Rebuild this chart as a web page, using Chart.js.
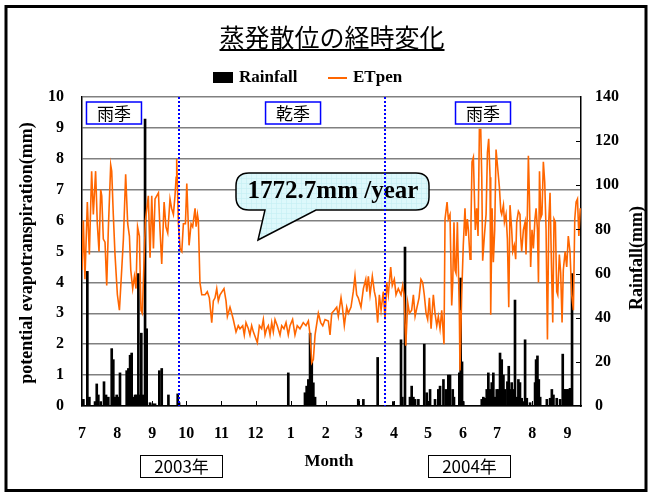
<!DOCTYPE html>
<html>
<head>
<meta charset="utf-8">
<script src="https://cdn.jsdelivr.net/npm/chart.js@4.4.1/dist/chart.umd.min.js"></script>
<style>
html, body { margin: 0; padding: 0; background: #fff; }
canvas { display: block; }
</style>
</head>
<body>
<canvas id="chart" width="652" height="493"></canvas>
<script>
// days counted from 1 July 2003
var monthStarts = [0, 31, 62, 92, 123, 153, 184, 215, 244, 275, 305, 336, 366, 397, 428];
var monthLabels = ['7', '8', '9', '10', '11', '12', '1', '2', '3', '4', '5', '6', '7', '8', '9'];

// ETpen (mm/day)
var etDays = [0, 1.2, 2.6, 4.7, 6.5, 8.5, 10, 12, 13.5, 15, 16.5, 17.4, 18.8, 20.3, 21.8, 23.2, 25.3, 26.2, 27.6, 29.1,
  31.2, 33, 35, 36.5, 38.5, 40.3, 41.8, 43, 44.7, 46.2, 47.6, 49, 50.6, 52, 53.2, 54.7, 55.9, 58.5, 60, 61.5,
  63, 64.4, 67.4, 68.8, 70.3, 72.4, 74, 75.6, 77.6, 79, 80.6, 82, 83, 83.5, 85, 86.5, 88, 89.4, 91.2, 92.4,
  94.4, 96.2, 97.6, 99.7, 100.6, 101.8, 102.6, 104, 105.6, 107.6, 108.5, 110.5, 112.3, 114.4, 115.8, 117.3, 118.8, 120.2, 121.7, 125.2,
  127, 128.2, 130.5, 132, 133.4, 135.8, 137.8, 139.3, 141.7, 143.1, 144.6, 146.7, 148.1, 149.6, 151.1, 154.6, 156.4, 158.4, 159.9, 161.4,
  162.8, 164.3, 165.8, 167.3, 168.7, 170.2, 172.2, 174.6, 176.1, 178.1, 179.9, 181.9, 183.4, 185.7, 187.8, 189.8, 192.2, 195.1, 197.5, 199.6,
  201.1, 202.6, 204, 205.5, 208.4, 210.5, 212.3, 214.3, 217.2, 218.7, 220.2, 222.5, 224.6, 226, 228.4, 229.6, 231.3, 233.4, 234.8, 237.2,
  239.2, 240.7, 242.2, 243.6, 246, 248.1, 250.2, 251.1, 252.5, 254, 256, 257.8, 259, 260.7, 262.2, 263.7, 265.7, 267.2, 268.7, 270.1,
  272.2, 273.6, 275.4, 276.9, 278.9, 281.3, 282.8, 284, 285.5, 287.2, 288.7, 290.7, 292.2, 293.7, 295.4, 297.2, 298.9, 300.4, 301.8, 303.4,
  304.8, 306.3, 307.8, 309.8, 311.3, 312.8, 314.2, 315.7, 317.2, 319.2, 320.1, 321.9, 323, 324.5, 326, 326.9, 328, 328.9, 329.8, 331,
  332.7, 333.3, 334.8, 336.2, 337.7, 338.6, 339.8, 340.7, 342.2, 343, 343.9, 345.1, 346, 346.8, 348, 349.2, 350.4, 351.6, 352.5, 353.3,
  354.8, 356.3, 357.5, 358.6, 359.8, 360.4, 361.6, 362.7, 363.9, 365.1, 366.3, 368, 369.3, 370.1, 371.6, 372.5, 373.9, 375.1, 376.3, 377.4,
  378.9, 379.8, 381.2, 382.4, 383.3, 384.8, 386.2, 386.8, 387.7, 389.2, 390.7, 391.5, 392.7, 393.6, 394.5, 395.6, 396.8, 398, 399.4, 400.4,
  401.6, 402.5, 403.4, 404.6, 405.6, 406.8, 408, 409.2, 410.4, 411.6, 412.7, 413.9, 415.1, 416.2, 417.4, 418.6, 419.5, 420.9, 422.1, 423.3,
  424.4, 426, 427.4, 428.8, 430.3, 431.8, 433.3, 434.5, 435.7, 436.9, 438.1, 439.3];
var etVals = [4.4, 6.0, 4.1, 6.6, 4.9, 7.6, 6.2, 7.6, 5.9, 5.0, 7.0, 6.8, 5.4, 5.3, 3.9, 5.7, 7.8, 7.6, 6.2, 4.9,
  3.6, 3.1, 4.4, 5.4, 7.5, 5.9, 5.5, 4.4, 3.8, 4.2, 3.8, 5.8, 5.5, 3.1, 3.0, 4.7, 6.0, 6.8, 4.8, 6.8,
  5.1, 6.7, 6.9, 5.7, 4.6, 6.6, 5.8, 5.6, 6.7, 6.4, 6.2, 6.8, 7.4, 8.0, 5.9, 5.1, 5.0, 5.9, 5.9, 7.2,
  5.2, 5.9, 5.8, 6.4, 5.8, 6.2, 6.0, 4.0, 3.6, 3.6, 3.6, 3.7, 3.5, 2.7, 3.4, 3.5, 3.8, 3.4, 3.6, 3.8,
  3.4, 2.9, 3.2, 3.0, 2.8, 2.4, 2.6, 2.5, 2.6, 2.3, 2.7, 2.5, 2.3, 2.6, 2.4, 2.05, 2.6, 2.5, 2.8, 2.3,
  2.5, 2.6, 2.3, 2.7, 2.4, 2.8, 2.6, 2.3, 2.6, 2.5, 2.7, 2.3, 2.6, 2.8, 2.3, 2.6, 2.5, 2.7, 2.6, 2.75,
  2.3, 1.4, 1.5, 2.3, 3.0, 2.7, 2.6, 2.8, 2.75, 2.3, 3.0, 3.1, 3.2, 2.9, 3.5, 3.2, 2.6, 3.2, 3.0, 3.2,
  3.7, 4.2, 3.6, 3.5, 3.2, 3.8, 4.1, 3.7, 4.2, 3.6, 4.2, 3.7, 3.5, 2.7, 3.6, 3.1, 3.7, 2.8, 4.0, 3.6,
  4.5, 3.9, 4.1, 3.6, 3.8, 3.6, 3.9, 3.6, 1.95, 3.35, 3.0, 3.1, 3.6, 2.9, 3.2, 3.5, 4.1, 4.0, 3.6, 3.0,
  2.8, 3.5, 2.5, 3.6, 3.0, 2.6, 2.9, 2.5, 3.1, 2.0, 6.05, 6.6, 6.05, 6.2, 3.25, 4.0, 5.95, 4.4, 4.3, 5.95,
  3.1, 1.15, 3.6, 5.2, 6.4, 5.5, 6.05, 5.7, 4.75, 5.95, 7.9, 8.05, 6.8, 5.7, 6.4, 5.5, 8.95, 8.95, 7.4, 4.7,
  5.5, 6.2, 8.2, 8.65, 7.4, 2.95, 6.4, 4.65, 5.7, 8.3, 7.8, 7.1, 6.3, 6.2, 6.5, 5.95, 6.2, 5.4, 3.2, 6.5,
  5.7, 5.0, 5.2, 4.75, 5.95, 6.3, 6.2, 5.5, 5.0, 5.7, 5.95, 4.9, 6.2, 8.1, 6.8, 4.5, 5.7, 5.1, 6.05, 6.4,
  5.7, 4.0, 7.6, 6.1, 6.2, 7.9, 7.25, 5.7, 2.15, 6.0, 6.9, 4.65, 2.7, 6.05, 5.95, 3.7, 3.6, 4.9, 4.3, 2.7,
  4.4, 5.0, 4.5, 5.5, 5.0, 3.6, 3.1, 6.05, 6.6, 6.7, 5.5, 6.4];

// daily rainfall (mm), only rainy days
var rainDays = [1.2, 4.7, 6.5, 11.5, 13, 14.4, 16.5, 19.4, 21.2, 23.2, 26.2, 27.6, 29, 30.6, 32, 33.5, 39.4, 40.9, 42.4, 43.8,
  45.3, 46.8, 48.2, 49.7, 51.2, 52.3, 54, 55.6, 57, 60, 62.4, 64.4, 68.2, 70.3, 76.2, 84.4, 85.6,
  181.9, 196.6, 198.1, 199.6, 201.1, 202.6, 204, 205.5,
  243.6, 248.1, 260.7, 274.5, 281.3, 282.5, 284.8, 289.2, 290.7, 292.2, 293.7, 296.6, 301.8, 303.9, 306.9, 311.3, 314.2, 315.7, 318.7, 320.8,
  323, 324.5, 326.9, 328, 332.7, 333.9, 335.1, 336.2, 352.5, 353.9, 355.4, 356.9, 358.3, 359.8, 361.3, 362.7, 364.2, 365.7, 367.1, 368.6,
  370.1, 371.6, 373.1, 375.1, 376.3, 377.4, 378.9, 380.3, 381.8, 383.3, 384.8, 386.2, 387.7, 389.2, 390.7, 392.2, 395.1, 399.5, 400.4, 401.6,
  402.8, 404, 409.9, 412.8, 414.3, 415.7, 418.6, 421.6, 423.9, 425, 426.2, 427.4, 428.8, 430.3, 432.1];
var rainMm = [3, 61, 4, 2, 10, 5, 2, 11, 5, 4, 26, 21, 4, 5, 4, 15, 16, 17, 23, 24,
  4, 5, 5, 60, 5, 33, 5, 130, 35, 1.5, 1, 1, 16, 17, 5, 5.5, 1.5,
  15, 6, 9, 12, 33, 20, 10.5, 4,
  3, 3, 22, 2, 30, 4, 72, 4, 9, 4, 3, 3, 28, 6, 7.5, 3, 7.5, 9, 12, 7.5,
  14, 14, 7.5, 4, 15, 58, 20, 2, 3, 4, 3.5, 7.5, 15, 7.5, 10.6, 15, 4, 7.5, 7.5, 24,
  21, 14, 7.5, 11, 18, 7.5, 10.6, 7.5, 48, 4, 12, 10.6, 3.5, 2, 30, 3.5, 1.5, 10.6, 21, 22.7,
  12, 4, 3, 3.5, 7.5, 5, 3.5, 3, 23.5, 7.5, 7.5, 7.5, 7.5, 8, 60];

var seasonNames = ['雨季', '乾季', '雨季'];
var seasonBreaks = [85.5, 267.2];
var yearLabels = ['2003年', '2004年'];
var calloutText = '1772.7mm /year';

var serif = '"Liberation Serif", "Times New Roman", serif';
var gothic = '"Noto Sans CJK JP", sans-serif';
var tickFont = {family: serif, weight: 'bold', size: 16};

var seasonCenters = [28.2, 186.1, 353.6];

function bubblePath() {
    var L = 236, T = 173, R = 429, B = 210, r = 13;
    var p = new Path2D();
    p.moveTo(L + r, T);
    p.lineTo(R - r, T);
    p.quadraticCurveTo(R, T, R, T + r);
    p.lineTo(R, B - r);
    p.quadraticCurveTo(R, B, R - r, B);
    p.lineTo(316, B);
    p.lineTo(258, 240);
    p.lineTo(265, B);
    p.lineTo(L + r, B);
    p.quadraticCurveTo(L, B, L, B - r);
    p.lineTo(L, T + r);
    p.quadraticCurveTo(L, T, L + r, T);
    p.closePath();
    return p;
}

var notes = {
    id: 'notes',
    beforeDraw: function (chart) {
        var ctx = chart.ctx;
        ctx.save();
        ctx.fillStyle = '#fff';
        ctx.fillRect(0, 0, chart.width, chart.height);
        ctx.restore();
    },
    afterDatasetsDraw: function (chart) {
        var ctx = chart.ctx, a = chart.chartArea;
        var x = chart.scales.x, yR = chart.scales.yR;
        ctx.save();

        // inner tick marks
        ctx.strokeStyle = '#000';
        ctx.lineWidth = 1;
        monthStarts.forEach(function (d) {
            var px = Math.round(x.getPixelForValue(d)) + 0.5;
            ctx.beginPath(); ctx.moveTo(px, a.bottom); ctx.lineTo(px, a.bottom - 5); ctx.stroke();
        });
        for (var v = 20; v < 140; v += 20) {
            var py = Math.round(yR.getPixelForValue(v)) + 0.5;
            ctx.beginPath(); ctx.moveTo(a.right, py); ctx.lineTo(a.right - 5, py); ctx.stroke();
        }

        // callout bubble
        var bub = bubblePath();
        ctx.fillStyle = '#ddf8fb';
        ctx.fill(bub);
        ctx.save();
        ctx.clip(bub);
        ctx.strokeStyle = '#c4eef3';
        ctx.lineWidth = 0.6;
        for (var gx = 236; gx < 429; gx += 5) { ctx.beginPath(); ctx.moveTo(gx + 0.5, 173); ctx.lineTo(gx + 0.5, 240); ctx.stroke(); }
        for (var gy = 173; gy < 240; gy += 5) { ctx.beginPath(); ctx.moveTo(236, gy + 0.5); ctx.lineTo(429, gy + 0.5); ctx.stroke(); }
        ctx.restore();
        ctx.strokeStyle = '#000';
        ctx.lineWidth = 1.5;
        ctx.stroke(bub);
        ctx.fillStyle = '#000';
        ctx.font = 'bold 25px ' + serif;
        ctx.textAlign = 'center';
        ctx.textBaseline = 'middle';
        ctx.fillText(calloutText, 333, 192);

        // season breaks
        ctx.strokeStyle = '#0000ff';
        ctx.lineWidth = 2;
        ctx.setLineDash([2, 2]);
        seasonBreaks.forEach(function (d) {
            var px = Math.round(x.getPixelForValue(d));
            ctx.beginPath(); ctx.moveTo(px, a.top); ctx.lineTo(px, a.bottom); ctx.stroke();
        });
        ctx.setLineDash([]);

        // season boxes
        ctx.font = '17px ' + gothic;
        seasonNames.forEach(function (s, i) {
            var cx = x.getPixelForValue(seasonCenters[i]);
            ctx.fillStyle = '#fff';
            ctx.fillRect(cx - 27.5, 102, 55, 22);
            ctx.strokeStyle = '#0000ff';
            ctx.lineWidth = 1.5;
            ctx.strokeRect(cx - 27.5, 102, 55, 22);
            ctx.fillStyle = '#000';
            ctx.fillText(s, cx, 113.5);
        });
        ctx.restore();
    },
    afterDraw: function (chart) {
        var ctx = chart.ctx;
        ctx.save();
        ctx.fillStyle = '#000';
        ctx.strokeStyle = '#000';
        ctx.textBaseline = 'middle';

        // frame
        ctx.lineWidth = 3;
        ctx.strokeRect(6, 6.5, 640, 484);

        // title
        ctx.font = '25px ' + gothic;
        ctx.textAlign = 'center';
        ctx.fillText('蒸発散位の経時変化', 332, 37);
        var w = ctx.measureText('蒸発散位の経時変化').width;
        ctx.lineWidth = 2;
        ctx.beginPath(); ctx.moveTo(332 - w / 2, 50); ctx.lineTo(332 + w / 2, 50); ctx.stroke();

        // legend
        ctx.fillRect(213, 72, 20, 11);
        ctx.font = 'bold 17px ' + serif;
        ctx.textAlign = 'left';
        ctx.fillText('Rainfall', 239, 78);
        ctx.strokeStyle = '#ff6600';
        ctx.lineWidth = 2;
        ctx.beginPath(); ctx.moveTo(328, 78); ctx.lineTo(347, 78); ctx.stroke();
        ctx.fillText('ETpen', 353, 78);

        // axis titles
        ctx.textAlign = 'center';
        ctx.font = 'bold 18px ' + serif;
        ctx.save();
        ctx.translate(27, 253); ctx.rotate(-Math.PI / 2);
        ctx.fillText('potential evapotranspiration(mm)', 0, 0);
        ctx.restore();
        ctx.save();
        ctx.translate(637, 258); ctx.rotate(-Math.PI / 2);
        ctx.fillText('Rainfall(mm)', 0, 0);
        ctx.restore();
        ctx.font = 'bold 17px ' + serif;
        ctx.fillText('Month', 329, 462);

        // year boxes
        ctx.strokeStyle = '#000';
        ctx.lineWidth = 1;
        ctx.font = '17px "Liberation Sans Narrow", ' + gothic;
        [140.5, 428.5].forEach(function (bx, i) {
            ctx.strokeRect(bx, 455.5, 82, 22);
            ctx.fillText(yearLabels[i], bx + 41, 467);
        });
        ctx.restore();
    }
};

var rainData = rainDays.map(function (d, i) { return {x: d, y: rainMm[i]}; });
var etData = etDays.map(function (d, i) { return {x: d, y: etVals[i]}; });

var chart = new Chart(document.getElementById('chart'), {
    type: 'bar',
    data: {
        datasets: [
            {type: 'line', label: 'ETpen', data: etData, yAxisID: 'y', order: 0,
             borderColor: '#ff6600', borderWidth: 1.6, pointRadius: 0, tension: 0, fill: false},
            {type: 'bar', label: 'Rainfall', data: rainData, yAxisID: 'yR', order: 1,
             backgroundColor: '#000', barThickness: 2}
        ]
    },
    options: {
        responsive: false,
        animation: false,
        layout: {padding: {left: 0, right: 0, top: 97, bottom: 47}},
        plugins: {legend: {display: false}, title: {display: false}, tooltip: {enabled: false}},
        scales: {
            x: {
                type: 'linear', min: 0, max: 440, offset: false,
                afterBuildTicks: function (s) { s.ticks = monthStarts.map(function (v) { return {value: v}; }); },
                afterFit: function (s) { s.height = 40; },
                grid: {display: false, drawTicks: false},
                border: {display: true, color: '#000', width: 1.5},
                ticks: {autoSkip: false, maxRotation: 0, padding: 18, color: '#000', font: tickFont,
                        callback: function (v, i) { return monthLabels[i]; }}
            },
            y: {
                position: 'left', min: 0, max: 10,
                afterFit: function (s) { s.width = 82; },
                grid: {color: '#808080', lineWidth: 1.5, drawTicks: false},
                border: {color: '#000', width: 1.5},
                ticks: {stepSize: 1, padding: 18, color: '#000', font: tickFont}
            },
            yR: {
                position: 'right', min: 0, max: 140,
                afterFit: function (s) { s.width = 71; },
                grid: {drawOnChartArea: false, drawTicks: false},
                border: {color: '#000', width: 1.5},
                ticks: {stepSize: 20, padding: 14, color: '#000', font: tickFont}
            }
        }
    },
    plugins: [notes]
});
</script>
</body>
</html>
